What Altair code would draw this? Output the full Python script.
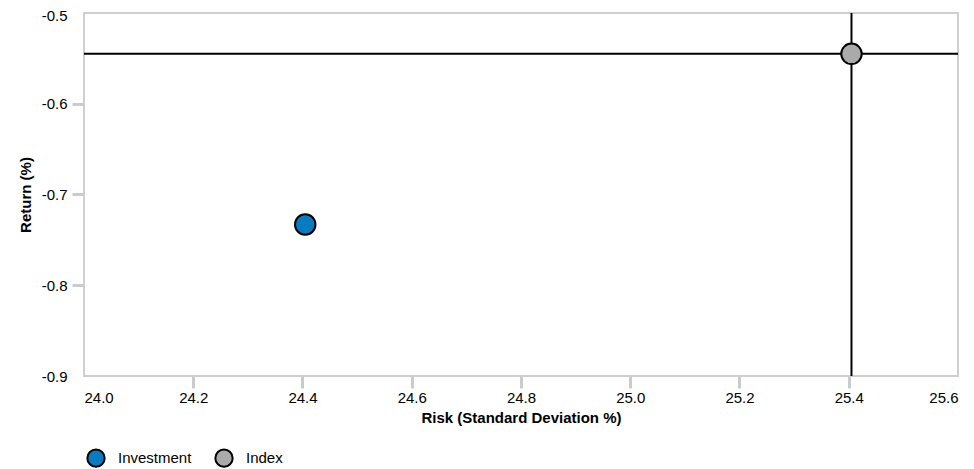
import altair as alt
import pandas as pd

names = ["Investment", "Index"]
risk = [24.405, 25.405]
ret = [-0.733, -0.545]
colors = ["#0a7bc1", "#aaaaaa"]
x_ticks = [24.0, 24.2, 24.4, 24.6, 24.8, 25.0, 25.2, 25.4, 25.6]
y_ticks = [-0.9, -0.8, -0.7, -0.6, -0.5]

df = pd.DataFrame({"name": names, "risk": risk, "ret": ret})
idx = df[df["name"] == "Index"]

font = "Liberation Sans"
xs = alt.Scale(domain=[24.0, 25.6], nice=False, zero=False)
ys = alt.Scale(domain=[-0.9, -0.5], nice=False, zero=False)
lbl = "replace(format(datum.value, '.1f'), '\u2212', '-')"

xaxis = alt.Axis(
    title="Risk (Standard Deviation %)", values=x_ticks, labelExpr=lbl,
    grid=False, domain=False, tickColor="#c8ccd0", tickWidth=3, tickSize=12,
    tickOpacity={"condition": {"test": "datum.value == 24 || datum.value == 25.6", "value": 0}, "value": 1},
    labelFont=font, labelFontSize=15, labelColor="#000", labelPadding=2,
    titleFont=font, titleFontSize=15, titleFontWeight="bold", titleColor="#000", titlePadding=5,
)
yaxis = alt.Axis(
    title="Return (%)", values=y_ticks, labelExpr=lbl,
    grid=False, domain=False, tickColor="#c8ccd0", tickWidth=3, tickSize=12,
    tickOpacity={"condition": {"test": "datum.value == -0.9 || datum.value == -0.5", "value": 0}, "value": 1},
    labelOffset={"condition": {"test": "datum.value == -0.5", "value": 2.5}, "value": 0},
    labelFont=font, labelFontSize=15, labelColor="#000", labelPadding=5,
    titleFont=font, titleFontSize=15, titleFontWeight="bold", titleColor="#000", titlePadding=8,
)

vrule = alt.Chart(idx).mark_rule(color="black", strokeWidth=2).encode(x=alt.X("risk:Q", scale=xs, axis=xaxis))
hrule = alt.Chart(idx).mark_rule(color="black", strokeWidth=2).encode(y=alt.Y("ret:Q", scale=ys, axis=yaxis))

points = alt.Chart(df).mark_point(filled=True, size=420, stroke="black", strokeWidth=2, opacity=1).encode(
    x=alt.X("risk:Q", scale=xs, axis=xaxis),
    y=alt.Y("ret:Q", scale=ys, axis=yaxis),
    color=alt.Color("name:N", scale=alt.Scale(domain=names, range=colors),
                    legend=alt.Legend(title=None, orient="none", legendX=2, legendY=435, direction="horizontal",
                                      symbolType="circle", symbolSize=300, symbolStrokeColor="black",
                                      symbolStrokeWidth=2, labelFont=font, labelFontSize=15, labelColor="#000",
                                      labelOffset=12, columnPadding=19, symbolOpacity=1)),
)

chart = alt.layer(vrule, hrule, points).properties(
    width=874, height=363,
    autosize=alt.AutoSizeParams(type="none"),
    padding={"left": 76, "top": 5, "right": 8, "bottom": 92},
).configure_view(stroke="#cfcfcf", strokeWidth=2)

chart.save("out.html", embed_options={"renderer": "svg", "actions": False})
